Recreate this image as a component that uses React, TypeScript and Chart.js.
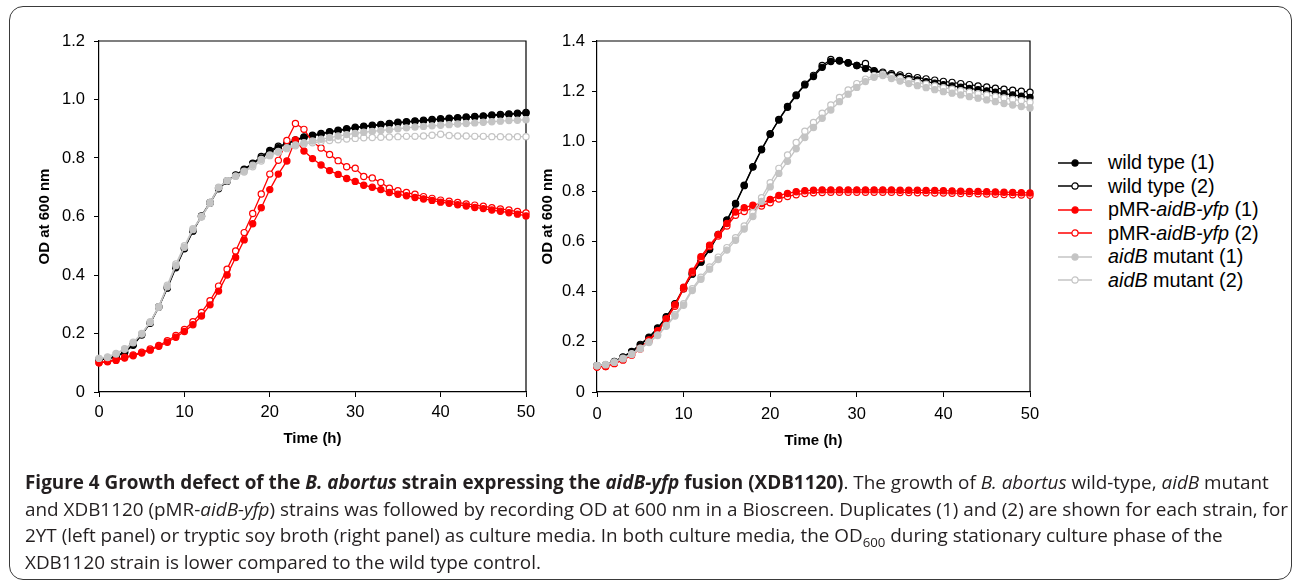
import React, { useEffect, useRef } from 'react';
import { Chart, registerables } from 'chart.js';

Chart.register(...registerables);

// ---------- data ----------
const HOURS = [
  0, 1, 2, 3, 4, 5, 6, 7, 8, 9, 10, 11, 12, 13, 14, 15, 16, 17, 18, 19, 20,
  21, 22, 23, 24, 25, 26, 27, 28, 29, 30, 31, 32, 33, 34, 35, 36, 37, 38, 39, 40,
  41, 42, 43, 44, 45, 46, 47, 48, 49, 50,
];

const SERIES_NAMES = [
  'wild type (1)',
  'wild type (2)',
  'pMR-aidB-yfp (1)',
  'pMR-aidB-yfp (2)',
  'aidB mutant (1)',
  'aidB mutant (2)',
];

const X_TICKS = [0, 10, 20, 30, 40, 50];
const LEFT_Y_TICKS = [0, 0.2, 0.4, 0.6, 0.8, 1.0, 1.2];
const RIGHT_Y_TICKS = [0, 0.2, 0.4, 0.6, 0.8, 1.0, 1.2, 1.4];

// Left panel (2YT)
const LEFT_WT1 = [
  0.110, 0.113, 0.120, 0.135, 0.160, 0.195, 0.235, 0.290, 0.355, 0.425, 0.490,
  0.550, 0.600, 0.645, 0.695, 0.720, 0.740, 0.760, 0.780, 0.800, 0.822,
  0.835, 0.848, 0.860, 0.870, 0.876, 0.882, 0.888, 0.893, 0.898, 0.903,
  0.907, 0.910, 0.913, 0.916, 0.920, 0.922, 0.925, 0.927, 0.930, 0.932,
  0.934, 0.936, 0.938, 0.940, 0.942, 0.945, 0.947, 0.949, 0.951, 0.953,
];
const LEFT_WT2 = [
  0.112, 0.115, 0.122, 0.137, 0.162, 0.197, 0.237, 0.292, 0.358, 0.428, 0.492,
  0.552, 0.602, 0.648, 0.698, 0.722, 0.742, 0.762, 0.782, 0.805, 0.826,
  0.840, 0.850, 0.862, 0.872, 0.878, 0.884, 0.890, 0.895, 0.900, 0.905,
  0.909, 0.912, 0.915, 0.918, 0.922, 0.924, 0.927, 0.929, 0.932, 0.934,
  0.936, 0.938, 0.940, 0.942, 0.944, 0.947, 0.949, 0.951, 0.953, 0.956,
];
const LEFT_PMR1 = [
  0.100, 0.103, 0.108, 0.116, 0.124, 0.133, 0.143, 0.156, 0.170, 0.187, 0.207,
  0.230, 0.260, 0.298, 0.345, 0.400, 0.460, 0.520, 0.575, 0.630, 0.692,
  0.745, 0.790, 0.862, 0.824, 0.798, 0.776, 0.757, 0.744, 0.730, 0.720,
  0.707, 0.700, 0.692, 0.682, 0.676, 0.671, 0.665, 0.660, 0.655, 0.649,
  0.645, 0.640, 0.636, 0.631, 0.627, 0.622, 0.618, 0.613, 0.608, 0.602,
];
const LEFT_PMR2 = [
  0.100, 0.105, 0.111, 0.119, 0.127, 0.136, 0.147, 0.159, 0.175, 0.193, 0.214,
  0.240, 0.272, 0.312, 0.362, 0.420, 0.482, 0.545, 0.610, 0.677, 0.745,
  0.792, 0.860, 0.918, 0.898, 0.855, 0.834, 0.812, 0.791, 0.770, 0.765,
  0.737, 0.732, 0.716, 0.697, 0.688, 0.682, 0.676, 0.668, 0.662, 0.656,
  0.652, 0.648, 0.643, 0.639, 0.635, 0.630, 0.626, 0.622, 0.617, 0.612,
];
const LEFT_AIDB1 = [
  0.115, 0.118, 0.130, 0.146, 0.168, 0.198, 0.238, 0.290, 0.360, 0.432, 0.495,
  0.555, 0.598, 0.645, 0.698, 0.722, 0.738, 0.755, 0.775, 0.795, 0.810,
  0.822, 0.835, 0.845, 0.852, 0.858, 0.864, 0.870, 0.875, 0.880, 0.884,
  0.888, 0.891, 0.894, 0.897, 0.900, 0.903, 0.906, 0.908, 0.910, 0.912,
  0.914, 0.916, 0.918, 0.920, 0.922, 0.924, 0.926, 0.928, 0.929, 0.931,
];
const LEFT_AIDB2 = [
  0.115, 0.120, 0.132, 0.148, 0.170, 0.200, 0.240, 0.292, 0.365, 0.438, 0.500,
  0.558, 0.600, 0.648, 0.700, 0.722, 0.738, 0.752, 0.770, 0.790, 0.808,
  0.820, 0.832, 0.842, 0.848, 0.852, 0.856, 0.860, 0.862, 0.865, 0.867,
  0.869, 0.870, 0.871, 0.872, 0.873, 0.874, 0.874, 0.875, 0.878, 0.881,
  0.877, 0.875, 0.875, 0.874, 0.874, 0.873, 0.873, 0.872, 0.873, 0.873,
];

// Right panel (tryptic soy broth)
const RIGHT_WT1 = [
  0.105, 0.108, 0.120, 0.138, 0.160, 0.187, 0.217, 0.253, 0.298, 0.350, 0.412,
  0.470, 0.518, 0.568, 0.626, 0.684, 0.750, 0.823, 0.897, 0.966, 1.028,
  1.085, 1.136, 1.182, 1.225, 1.258, 1.295, 1.318, 1.320, 1.312, 1.302,
  1.290, 1.280, 1.272, 1.265, 1.258, 1.250, 1.245, 1.238, 1.232, 1.226,
  1.221, 1.216, 1.211, 1.206, 1.201, 1.196, 1.190, 1.185, 1.180, 1.175,
];
const RIGHT_WT2 = [
  0.105, 0.108, 0.122, 0.140, 0.162, 0.190, 0.219, 0.255, 0.300, 0.352, 0.414,
  0.472, 0.520, 0.570, 0.628, 0.686, 0.752, 0.825, 0.899, 0.968, 1.030,
  1.087, 1.139, 1.185, 1.228, 1.263, 1.302, 1.326, 1.322, 1.313, 1.302,
  1.310, 1.282, 1.276, 1.270, 1.265, 1.259, 1.254, 1.249, 1.244, 1.239,
  1.235, 1.230, 1.226, 1.221, 1.217, 1.212, 1.208, 1.204, 1.200, 1.196,
];
const RIGHT_PMR1 = [
  0.100, 0.102, 0.115, 0.130, 0.150, 0.175, 0.208, 0.245, 0.292, 0.348, 0.418,
  0.482, 0.540, 0.586, 0.628, 0.672, 0.718, 0.735, 0.745, 0.752, 0.768,
  0.784, 0.792, 0.799, 0.803, 0.805, 0.806, 0.806, 0.806, 0.806, 0.806,
  0.806, 0.806, 0.806, 0.806, 0.805, 0.805, 0.805, 0.804, 0.804, 0.803,
  0.802, 0.801, 0.800, 0.800, 0.799, 0.798, 0.797, 0.796, 0.795, 0.794,
];
const RIGHT_PMR2 = [
  0.100, 0.102, 0.113, 0.127, 0.147, 0.172, 0.203, 0.240, 0.287, 0.342, 0.412,
  0.476, 0.532, 0.580, 0.622, 0.662, 0.705, 0.720, 0.733, 0.742, 0.755,
  0.770, 0.780, 0.787, 0.792, 0.795, 0.796, 0.797, 0.797, 0.797, 0.797,
  0.797, 0.797, 0.797, 0.797, 0.796, 0.796, 0.795, 0.795, 0.794, 0.794,
  0.793, 0.792, 0.792, 0.791, 0.790, 0.789, 0.788, 0.787, 0.786, 0.785,
];
const RIGHT_AIDB1 = [
  0.105, 0.108, 0.118, 0.132, 0.150, 0.172, 0.197, 0.225, 0.262, 0.303, 0.346,
  0.405, 0.450, 0.490, 0.528, 0.566, 0.605, 0.650, 0.700, 0.760, 0.818,
  0.872, 0.920, 0.970, 1.015, 1.055, 1.092, 1.125, 1.158, 1.188, 1.215,
  1.238, 1.255, 1.262, 1.250, 1.240, 1.230, 1.222, 1.214, 1.206, 1.198,
  1.192, 1.185, 1.178, 1.172, 1.165, 1.158, 1.151, 1.145, 1.139, 1.133,
];
const RIGHT_AIDB2 = [
  0.105, 0.110, 0.120, 0.135, 0.153, 0.175, 0.200, 0.228, 0.265, 0.308, 0.352,
  0.412, 0.458, 0.499, 0.538, 0.576, 0.615, 0.662, 0.715, 0.775, 0.835,
  0.892, 0.945, 0.995, 1.040, 1.075, 1.112, 1.145, 1.175, 1.205, 1.230,
  1.248, 1.262, 1.268, 1.258, 1.250, 1.242, 1.235, 1.228, 1.221, 1.214,
  1.208, 1.202, 1.196, 1.190, 1.185, 1.179, 1.173, 1.167, 1.162, 1.156,
];

// ---------- styles ----------
const COLORS = ['#000000', '#000000', '#ff0000', '#ff0000', '#c4c4c4', '#c4c4c4'];
const FILLED = [true, false, true, false, true, false];
const ORDERS = [2, 2, 1, 1, 0, 0];
const AXIS_FONT = '"Liberation Sans", Arial, Helvetica, sans-serif';

type PanelLayout = {
  canvasLeft: number;
  canvasTop: number;
  width: number;
  height: number;
  padTop: number;
  padRight: number;
  yAxisWidth: number;
  xAxisHeight: number;
  yTickPad: number;
  xTickPad: number;
  yTitlePad: number;
  xTitlePad: number;
};

const framePlugin = {
  id: 'plotFrame',
  beforeDatasetsDraw(chart: any) {
    const { ctx, chartArea } = chart;
    const { left, top, right, bottom } = chartArea;
    ctx.save();
    ctx.strokeStyle = '#000';
    ctx.lineWidth = 1.2;
    ctx.beginPath();
    ctx.moveTo(left, top);
    ctx.lineTo(right, top);
    ctx.lineTo(right, bottom);
    ctx.stroke();
    ctx.restore();
  },
};

function buildDatasets(seriesValues: number[][]) {
  return seriesValues.map((values, i) => ({
    label: SERIES_NAMES[i],
    data: HOURS.map((h, j) => ({ x: h, y: values[j] })),
    borderColor: COLORS[i],
    backgroundColor: COLORS[i],
    pointBackgroundColor: FILLED[i] ? COLORS[i] : '#ffffff',
    pointBorderColor: COLORS[i],
    pointRadius: 3.1,
    pointBorderWidth: 1.2,
    borderWidth: 1.3,
    tension: 0,
    clip: false as any,
    order: ORDERS[i],
  }));
}

function Panel({
  seriesValues,
  yMax,
  yTicks,
  layout,
}: {
  seriesValues: number[][];
  yMax: number;
  yTicks: number[];
  layout: PanelLayout;
}) {
  const ref = useRef<HTMLCanvasElement | null>(null);
  useEffect(() => {
    if (!ref.current) return;
    const chart = new Chart(ref.current, {
      type: 'line',
      data: { datasets: buildDatasets(seriesValues) as any },
      plugins: [framePlugin],
      options: {
        animation: false,
        responsive: false,
        maintainAspectRatio: false,
        events: [],
        layout: {
          padding: { left: 0, top: layout.padTop, right: layout.padRight, bottom: 0 },
        },
        plugins: { legend: { display: false }, tooltip: { enabled: false } },
        scales: {
          x: {
            type: 'linear',
            min: 0,
            max: 50,
            afterBuildTicks: (scale: any) => {
              scale.ticks = X_TICKS.map((v) => ({ value: v }));
            },
            ticks: {
              color: '#000',
              padding: layout.xTickPad,
              font: { family: AXIS_FONT, size: 16.5 },
              callback: (v: any) => String(v),
            },
            grid: { drawOnChartArea: false, color: '#000', tickLength: 5, lineWidth: 1 },
            border: { color: '#000', width: 1.2 },
            title: {
              display: true,
              text: 'Time (h)',
              color: '#000',
              font: { family: AXIS_FONT, size: 15, weight: 'bold' },
              padding: { top: 0, bottom: layout.xTitlePad },
            },
            afterFit: (scale: any) => {
              scale.height = layout.xAxisHeight;
            },
          },
          y: {
            type: 'linear',
            min: 0,
            max: yMax,
            afterBuildTicks: (scale: any) => {
              scale.ticks = yTicks.map((v) => ({ value: v }));
            },
            ticks: {
              color: '#000',
              padding: layout.yTickPad,
              font: { family: AXIS_FONT, size: 16.5 },
              callback: (v: any) => (Number(v) === 0 ? '0' : Number(v).toFixed(1)),
            },
            grid: { drawOnChartArea: false, color: '#000', tickLength: 5, lineWidth: 1 },
            border: { color: '#000', width: 1.2 },
            title: {
              display: true,
              text: 'OD at 600 nm',
              color: '#000',
              font: { family: AXIS_FONT, size: 15, weight: 'bold' },
              padding: { top: layout.yTitlePad, bottom: 0 },
            },
            afterFit: (scale: any) => {
              scale.width = layout.yAxisWidth;
            },
          },
        },
      } as any,
    });
    return () => chart.destroy();
  }, []);
  return (
    <canvas
      ref={ref}
      width={layout.width}
      height={layout.height}
      style={{
        position: 'absolute',
        left: layout.canvasLeft,
        top: layout.canvasTop,
        width: layout.width,
        height: layout.height,
      }}
    />
  );
}

const LEFT_LAYOUT: PanelLayout = {
  canvasLeft: 20,
  canvasTop: 20,
  width: 530,
  height: 450,
  padTop: 21,
  padRight: 24,
  yAxisWidth: 79,
  xAxisHeight: 78,
  yTickPad: 9,
  xTickPad: 6,
  yTitlePad: 16,
  xTitlePad: 22,
};

const RIGHT_LAYOUT: PanelLayout = {
  canvasLeft: 530,
  canvasTop: 20,
  width: 520,
  height: 450,
  padTop: 21,
  padRight: 20,
  yAxisWidth: 67,
  xAxisHeight: 78,
  yTickPad: 7,
  xTickPad: 8,
  yTitlePad: 9,
  xTitlePad: 20,
};

function LegendLabel({ text }: { text: string }) {
  const parts = text.split(/(aidB-yfp|aidB)/);
  return (
    <span>
      {parts.map((p, i) =>
        p === 'aidB-yfp' || p === 'aidB' ? <i key={i}>{p}</i> : <span key={i}>{p}</span>
      )}
    </span>
  );
}

function Legend() {
  return (
    <div
      style={{
        position: 'absolute',
        left: 1058,
        top: 151,
        fontFamily: AXIS_FONT,
        fontSize: 19.8,
        color: '#000',
        whiteSpace: 'nowrap',
      }}
    >
      {SERIES_NAMES.map((name, i) => (
        <div key={i} style={{ display: 'flex', alignItems: 'center', height: 23.5 }}>
          <svg width={34} height={12} style={{ marginRight: 16, flex: 'none' }}>
            <line x1={0} y1={6} x2={34} y2={6} stroke={COLORS[i]} strokeWidth={1.5} />
            <circle
              cx={17}
              cy={6}
              r={3.1}
              fill={FILLED[i] ? COLORS[i] : '#ffffff'}
              stroke={COLORS[i]}
              strokeWidth={1.2}
            />
          </svg>
          <LegendLabel text={name} />
        </div>
      ))}
    </div>
  );
}

function Caption() {
  return (
    <div
      style={{
        position: 'absolute',
        left: 25,
        top: 469,
        fontFamily: '"Open Sans", "Noto Sans", sans-serif',
        fontSize: 18.9,
        lineHeight: '26.5px',
        color: '#231f20',
        whiteSpace: 'nowrap',
      }}
    >
      <div>
        <b>
          Figure 4 Growth defect of the <i>B. abortus</i> strain expressing the <i>aidB-yfp</i>{' '}
          fusion (XDB1120)
        </b>
        . The growth of <i>B. abortus</i> wild-type, <i>aidB</i> mutant
      </div>
      <div>
        and XDB1120 (pMR-<i>aidB-yfp</i>) strains was followed by recording OD at 600 nm in a
        Bioscreen. Duplicates (1) and (2) are shown for each strain, for
      </div>
      <div>
        2YT (left panel) or tryptic soy broth (right panel) as culture media. In both culture
        media, the OD<sub style={{ fontSize: '0.7em', lineHeight: 0 }}>600</sub> during stationary
        culture phase of the
      </div>
      <div>XDB1120 strain is lower compared to the wild type control.</div>
    </div>
  );
}

export default function App() {
  return (
    <div
      style={{
        position: 'absolute',
        left: 0,
        top: 0,
        width: 1293,
        height: 583,
        background: '#ffffff',
        overflow: 'hidden',
      }}
    >
      <div
        style={{
          position: 'absolute',
          left: 9,
          top: 6,
          width: 1283,
          height: 574,
          border: '1.5px solid #3a3a3a',
          borderRadius: 14,
          boxSizing: 'border-box',
        }}
      />
      <Panel
        seriesValues={[LEFT_WT1, LEFT_WT2, LEFT_PMR1, LEFT_PMR2, LEFT_AIDB1, LEFT_AIDB2]}
        yMax={1.2}
        yTicks={LEFT_Y_TICKS}
        layout={LEFT_LAYOUT}
      />
      <Panel
        seriesValues={[RIGHT_WT1, RIGHT_WT2, RIGHT_PMR1, RIGHT_PMR2, RIGHT_AIDB1, RIGHT_AIDB2]}
        yMax={1.4}
        yTicks={RIGHT_Y_TICKS}
        layout={RIGHT_LAYOUT}
      />
      <Legend />
      <Caption />
    </div>
  );
}
